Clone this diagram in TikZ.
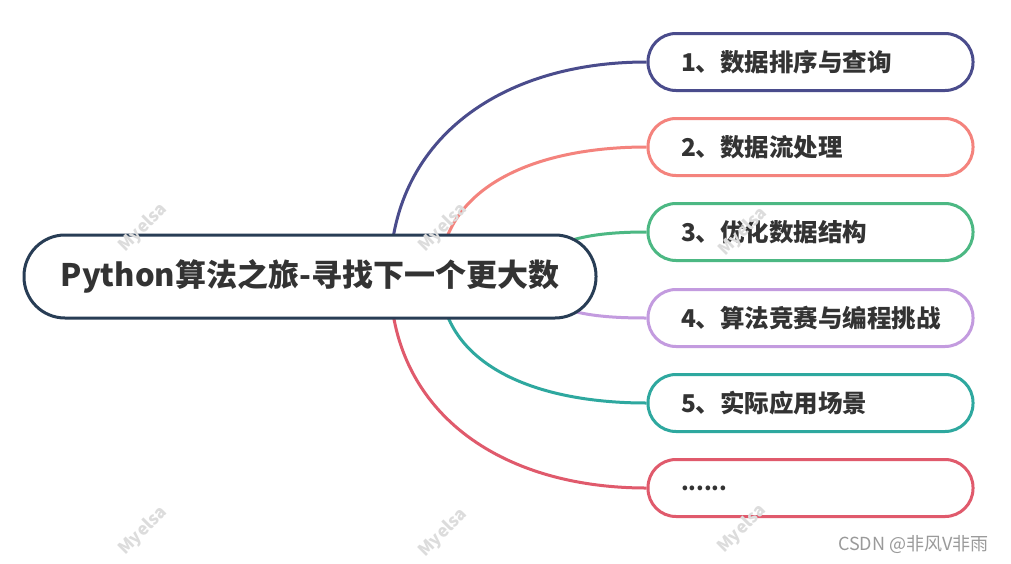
\documentclass[tikz,border=0pt]{standalone}
\usepackage{fontspec}
\setmainfont{Noto Sans CJK SC}
\begin{document}
\begin{tikzpicture}[x=1pt,y=-1pt,
  root/.style={draw=rootc, line width=3pt, fill=white, rounded corners=41pt,
    minimum width=572pt, minimum height=83pt, inner sep=0pt,
    font=\fontsize{31}{37}\selectfont\bfseries, text=txt},
  child/.style={draw=#1, line width=3pt, fill=white, rounded corners=28pt,
    minimum height=57pt, text width=259pt, inner xsep=33pt, inner ysep=0pt, align=left,
    font=\fontsize{24.5}{29}\selectfont\bfseries, text=txt},
  link/.style={draw=#1, line width=3pt},
  wm/.style={text=wmc, rotate=45, font=\fontsize{17}{20}\selectfont\bfseries},
]
\definecolor{rootc}{HTML}{283D55}
\definecolor{txt}{HTML}{333333}
\definecolor{cA}{HTML}{4A4C8C}
\definecolor{cB}{HTML}{F4837D}
\definecolor{cC}{HTML}{4CB883}
\definecolor{cD}{HTML}{C39BDF}
\definecolor{cE}{HTML}{2EA89F}
\definecolor{cF}{HTML}{E05A6C}
\definecolor{wmc}{HTML}{DCDCDC}
\definecolor{csdn}{HTML}{9A9A9A}
\useasboundingbox[fill=white] (0,0) rectangle (1011,563);

\node[child=cA] (c1) at (810.5,62) {1、数据排序与查询};
\node[child=cB] (c2) at (810.5,147) {2、数据流处理};
\node[child=cC] (c3) at (810.5,232) {3、优化数据结构};
\node[child=cD] (c4) at (810.5,318) {4、算法竞赛与编程挑战};
\node[child=cE] (c5) at (810.5,403) {5、实际应用场景};
\node[child=cF] (c6) at (810.5,488) {\fontsize{22}{29}\selectfont......};

\coordinate (s1) at (390,276);
\coordinate (s2) at (440,276);
\coordinate (s3) at (530,276);

\draw[link=cA] (s1) .. controls (390,140) and (500,62) .. (c1.west);
\draw[link=cB] (s2) .. controls (440,190) and (530,147) .. (c2.west);
\draw[link=cC] (s3) .. controls (540,240) and (590,232) .. (c3.west);
\draw[link=cD] (s3) .. controls (540,312) and (590,318) .. (c4.west);
\draw[link=cE] (s2) .. controls (440,362) and (530,403) .. (c5.west);
\draw[link=cF] (s1) .. controls (390,412) and (500,488) .. (c6.west);

\node[root] (r) at (310,276.5) {Python算法之旅-寻找下一个更大数};

\node[wm] (w1) at (143,228) {Myelsa};
\node[wm] (w2) at (443,228) {Myelsa};
\node[wm] (w3) at (743,232) {Myelsa};
\node[wm] (w4) at (143,531) {Myelsa};
\node[wm] (w5) at (443,533) {Myelsa};
\node[wm] (w6) at (742,529) {Myelsa};

\node[anchor=west, text=csdn, font=\fontsize{18}{21}\selectfont, inner sep=0pt] (cs) at (838,545) {CSDN @非风V非雨};
\end{tikzpicture}
\end{document}
